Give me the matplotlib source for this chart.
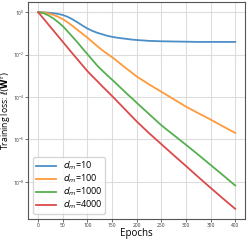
import matplotlib
matplotlib.use("Agg")
import matplotlib.pyplot as plt
import numpy as np
from matplotlib.ticker import FixedLocator, LogFormatterMathtext, NullLocator

epochs = [0, 10, 20, 30, 40, 50, 60, 70, 80, 90, 100, 110, 120, 130, 140, 150, 160, 170, 180, 190, 200,
          225, 250, 275, 300, 325, 350, 375, 400]

# -log10(training loss) for each width
neglog_d10 = [0, 0.005, 0.02, 0.045, 0.08, 0.13, 0.22, 0.34, 0.48, 0.63, 0.77, 0.88, 0.97, 1.04, 1.11, 1.16,
              1.20, 1.23, 1.26, 1.29, 1.31, 1.35, 1.37, 1.38, 1.39, 1.40, 1.40, 1.40, 1.40]
neglog_d100 = [0, 0.01, 0.05, 0.12, 0.21, 0.33, 0.48, 0.65, 0.84, 1.02, 1.20, 1.40, 1.60, 1.79, 1.96, 2.12,
               2.30, 2.49, 2.67, 2.85, 3.03, 3.40, 3.75, 4.10, 4.45, 4.76, 5.06, 5.38, 5.69]
neglog_d1000 = [0, 0.04, 0.14, 0.28, 0.46, 0.66, 0.91, 1.17, 1.43, 1.71, 1.98, 2.25, 2.52, 2.75, 2.97, 3.18,
                3.40, 3.62, 3.84, 4.05, 4.27, 4.80, 5.33, 5.79, 6.25, 6.72, 7.20, 7.68, 8.17]
neglog_d4000 = [0, 0.28, 0.56, 0.84, 1.12, 1.40, 1.68, 1.96, 2.23, 2.51, 2.78, 3.02, 3.25, 3.49, 3.72, 3.95,
                4.19, 4.43, 4.67, 4.91, 5.15, 5.70, 6.22, 6.74, 7.25, 7.77, 8.28, 8.78, 9.27]

labels = ["$d_m$=10", "$d_m$=100", "$d_m$=1000", "$d_m$=4000"]
colors = ["#4c8fc7", "#ff9a3c", "#56b04f", "#db4a4a"]
series = [neglog_d10, neglog_d100, neglog_d1000, neglog_d4000]

plt.rcParams["font.family"] = ["Open Sans", "DejaVu Sans"]

fig = plt.figure(figsize=(2.49, 2.40), dpi=100)
ax = fig.add_axes([0.114, 0.089, 0.870, 0.901])

for vals, lab, col in zip(series, labels, colors):
    loss = 10.0 ** (-np.array(vals))
    ax.plot(epochs, loss, color=col, lw=1.3, label=lab)

ax.set_yscale("log")
ax.yaxis.set_major_locator(FixedLocator([1e0, 1e-2, 1e-4, 1e-6, 1e-8]))
ax.yaxis.set_major_formatter(LogFormatterMathtext())
ax.yaxis.set_minor_locator(NullLocator())
ax.set_xticks(range(0, 401, 50))

ax.grid(True, color="#dddddd", lw=0.8)
ax.set_axisbelow(True)
for sp in ax.spines.values():
    sp.set_color("#555555")
    sp.set_linewidth(0.8)
ax.tick_params(axis="both", labelsize=3.5, length=2, width=0.5, pad=1.0, colors="#333333")

ax.set_xlabel("Epochs", fontsize=7, labelpad=0)
ax.set_ylabel(r"Training loss: $\ell(\mathbf{W}^t)$", fontsize=6.2)
ax.yaxis.set_label_coords(-0.071, 0.5)

ax.legend(loc="lower left", fontsize=6.5, handlelength=2.2, borderpad=0.32,
          labelspacing=0.05, frameon=True, fancybox=True, framealpha=0.8,
          edgecolor="#cccccc")

fig.savefig("out.png", dpi=100)
